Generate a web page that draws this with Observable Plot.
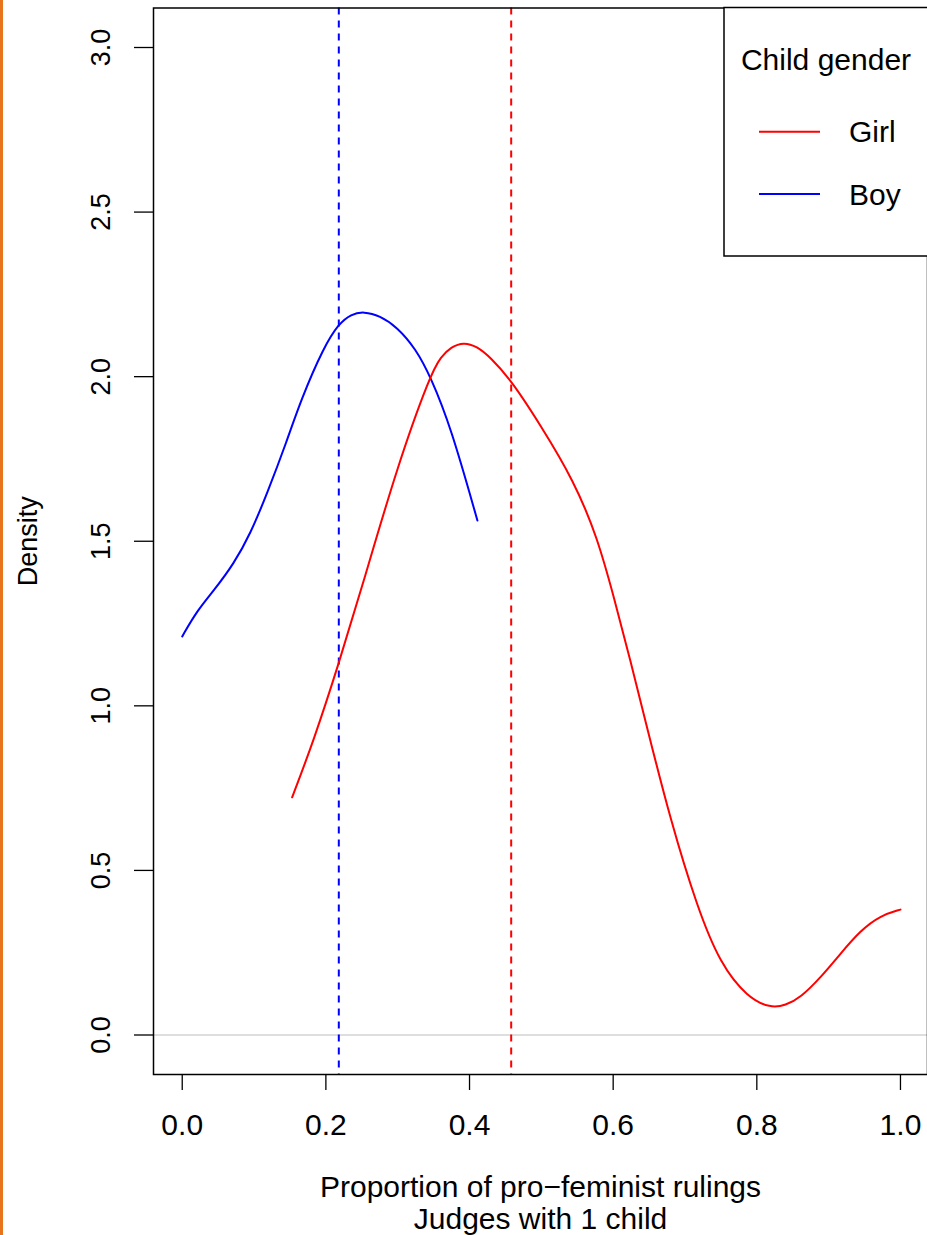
<!DOCTYPE html>
<html>
<head>
<meta charset="utf-8">
<script src="https://cdn.jsdelivr.net/npm/d3@7"></script>
<script src="https://cdn.jsdelivr.net/npm/@observablehq/plot@0.6"></script>
<style>
  html, body { margin: 0; padding: 0; background: #fff; }
  #wrap { position: relative; width: 927px; height: 1235px; overflow: hidden; }
  #edge { position: absolute; left: 0; top: 0; width: 3px; height: 1235px; background: #e8741e; }
  #legend { position: absolute; left: 0; top: 0; }
</style>
</head>
<body>
<div id="wrap"><div id="chart"></div><div id="edge"></div></div>
<script>
// ---- data ----
const xTicks = [0, 0.2, 0.4, 0.6, 0.8, 1.0];
const yTicks = [0, 0.5, 1.0, 1.5, 2.0, 2.5, 3.0];

const girlX = [0.153, 0.183, 0.218, 0.253, 0.299, 0.346, 0.360, 0.374, 0.392, 0.410, 0.429, 0.458, 0.499, 0.545, 0.578, 0.601, 0.624, 0.647, 0.680, 0.717, 0.749, 0.787, 0.819, 0.840, 0.861, 0.889, 0.916, 0.944, 0.972, 1.000];
const girlY = [0.722, 0.894, 1.128, 1.381, 1.725, 2.009, 2.060, 2.090, 2.105, 2.092, 2.059, 1.989, 1.852, 1.685, 1.512, 1.330, 1.138, 0.935, 0.651, 0.388, 0.216, 0.114, 0.082, 0.090, 0.114, 0.175, 0.246, 0.317, 0.363, 0.381];

const boyX = [0.000, 0.021, 0.044, 0.072, 0.095, 0.118, 0.146, 0.165, 0.197, 0.218, 0.235, 0.253, 0.275, 0.299, 0.325, 0.346, 0.374, 0.411];
const boyY = [1.211, 1.290, 1.350, 1.432, 1.523, 1.644, 1.806, 1.928, 2.090, 2.161, 2.190, 2.198, 2.185, 2.151, 2.085, 1.999, 1.847, 1.563];

const groups = ["Girl", "Boy"];
const groupColors = ["#ff0000", "#0000ff"];
const meanValues = [0.458, 0.218];

const xTitle = "Proportion of pro\u2212feminist rulings\nJudges with 1 child";
const yTitle = "Density";
const legendTitle = "Child gender";

// ---- build table ----
const girl = girlX.map((x, i) => ({x, y: girlY[i], g: "Girl"}));
const boy = boyX.map((x, i) => ({x, y: boyY[i], g: "Boy"}));
const means = groups.map((g, i) => ({g, x: meanValues[i]}));

const font = "'Liberation Sans', Arial, Helvetica, sans-serif";

const chart = Plot.plot({
  width: 927,
  height: 1235,
  marginLeft: 153,
  marginTop: 7.5,
  marginRight: 0,
  marginBottom: 161,
  style: {fontFamily: font, fontSize: "30px", background: "white", color: "black"},
  x: {domain: [-0.04, 1.04], range: [153, 928.7]},
  y: {domain: [-0.12, 3.12], range: [1074, 7.5]},
  color: {domain: groups, range: groupColors},
  marks: [
    Plot.ruleY([0], {stroke: "#bebebe", strokeWidth: 1.2}),
    Plot.ruleX(means, {x: "x", stroke: "g", strokeWidth: 2, strokeDasharray: "7,6"}),
    Plot.line(boy, {x: "x", y: "y", stroke: "g", strokeWidth: 2, curve: "basis"}),
    Plot.line(girl, {x: "x", y: "y", stroke: "g", strokeWidth: 2, curve: "basis"}),
    Plot.frame({stroke: "black", strokeWidth: 1.5}),
    Plot.axisX({ticks: xTicks, tickFormat: d3.format(".1f"), tickSize: 16, tickPadding: 23, fontSize: 30, strokeWidth: 1.3, label: null}),
    Plot.axisY({ticks: yTicks, tickFormat: d3.format(".1f"), tickSize: 19, tickPadding: 25, tickRotate: -90, fontSize: 27, strokeWidth: 1.3, label: null}),
    Plot.text([yTitle], {frameAnchor: "left", dx: -117, rotate: -90, lineAnchor: "bottom", textAnchor: "middle", fontSize: 27}),
    Plot.text([xTitle], {frameAnchor: "bottom", dy: 99, lineAnchor: "top", textAnchor: "middle", fontSize: 30, lineHeight: 1.08})
  ]
});
document.getElementById("chart").appendChild(chart);

// ---- legend overlay (R-style boxed legend) ----
const ns = "http://www.w3.org/2000/svg";
const leg = document.createElementNS(ns, "svg");
leg.setAttribute("id", "legend");
leg.setAttribute("width", 927);
leg.setAttribute("height", 300);
leg.style.fontFamily = font;
const box = document.createElementNS(ns, "rect");
box.setAttribute("x", 724); box.setAttribute("y", 7.5);
box.setAttribute("width", 230); box.setAttribute("height", 248.5);
box.setAttribute("fill", "white"); box.setAttribute("stroke", "black"); box.setAttribute("stroke-width", 1.5);
leg.appendChild(box);
const t = document.createElementNS(ns, "text");
t.setAttribute("x", 826); t.setAttribute("y", 70);
t.setAttribute("text-anchor", "middle"); t.setAttribute("font-size", 30);
t.textContent = legendTitle;
leg.appendChild(t);
groups.forEach((g, i) => {
  const yy = 131.7 + i * 62.3;
  const l = document.createElementNS(ns, "line");
  l.setAttribute("x1", 759); l.setAttribute("x2", 820);
  l.setAttribute("y1", yy); l.setAttribute("y2", yy);
  l.setAttribute("stroke", groupColors[i]); l.setAttribute("stroke-width", 2);
  leg.appendChild(l);
  const tx = document.createElementNS(ns, "text");
  tx.setAttribute("x", 849); tx.setAttribute("y", yy + 10.5);
  tx.setAttribute("font-size", 30);
  tx.textContent = g;
  leg.appendChild(tx);
});
document.getElementById("wrap").appendChild(leg);
</script>
</body>
</html>
